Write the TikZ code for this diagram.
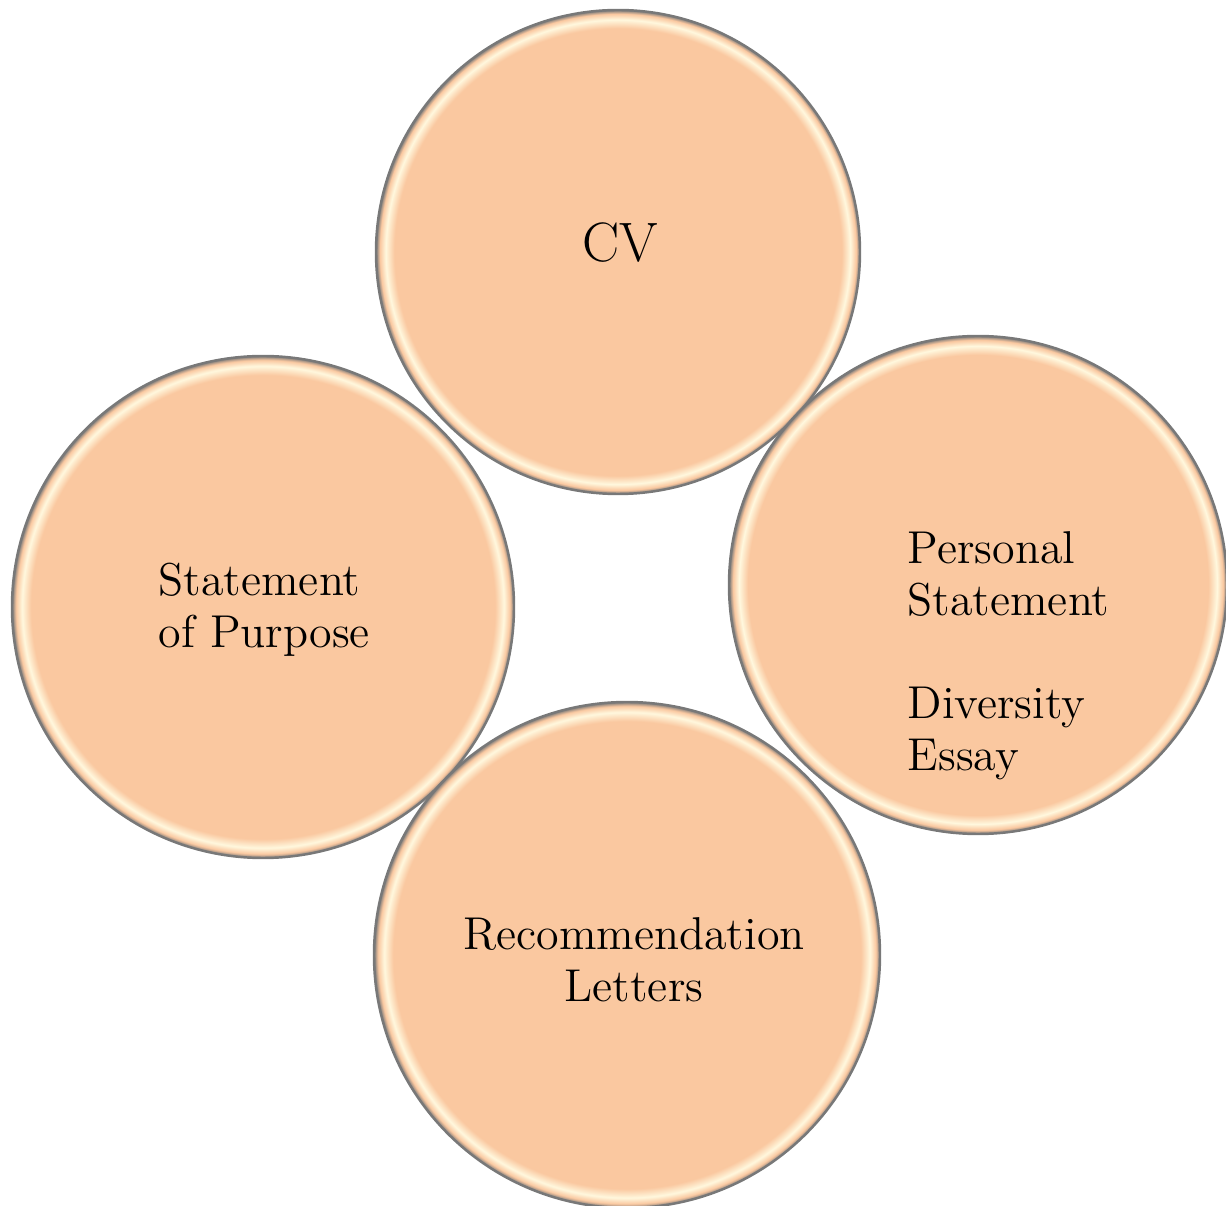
\documentclass[tikz,border=0pt]{standalone}
\definecolor{peach}{RGB}{250,200,160}
\definecolor{cream}{RGB}{255,248,222}
\definecolor{rimgray}{RGB}{120,120,120}
\pgfdeclareradialshading{discshade}{\pgfpoint{0bp}{0bp}}{color(0bp)=(peach); color(23.1bp)=(peach); color(24.0bp)=(cream); color(24.6bp)=(peach); color(25bp)=(rimgray); color(50bp)=(rimgray)}
\begin{document}
\begin{tikzpicture}
[   disc/.style={circle,minimum size=#1,inner sep=0pt,shade,shading=discshade,draw=rimgray,line width=0.7pt},
    caption/.style={inner sep=0pt,font=\fontsize{13.1}{14.8}\selectfont},
]
    \useasboundingbox (0,0) rectangle (12.26,12.06);
    \node[disc=4.84cm] (cv) at (6.18,9.54) {};
    \node[disc=5.02cm] (sop) at (2.63,5.99) {};
    \node[disc=4.98cm] (ps) at (9.78,6.21) {};
    \node[disc=5.06cm] (rec) at (6.27,2.51) {};
    \node[caption,font=\fontsize{15.8}{18}\selectfont,anchor=base] (cv-text) at (6.20,9.44) {CV};
    \node[caption,align=left,anchor=base west] (sop-text) at (1.58,5.58) {Statement\\of Purpose};
    \node[caption,align=left,anchor=base west] (ps-text) at (9.07,4.35) {Personal\\Statement\\[14.6pt]Diversity\\Essay};
    \node[caption,align=center,anchor=base] (rec-text) at (6.34,2.04) {Recommendation\\Letters};
\end{tikzpicture}
\end{document}
